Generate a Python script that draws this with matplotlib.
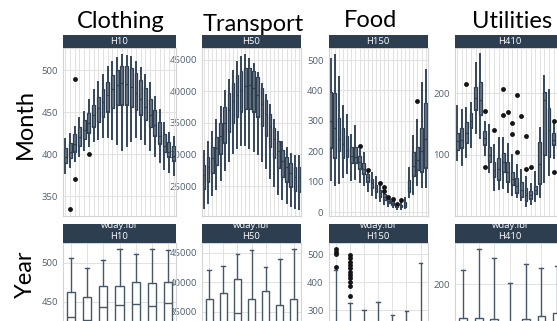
import matplotlib
matplotlib.use("Agg")
import matplotlib.pyplot as plt
from matplotlib.patches import Rectangle

plt.rcParams["font.family"] = ["Open Sans", "DejaVu Sans"]

# =============================================================================
# Data
# =============================================================================

series_ids = ["H10", "H50", "H150", "H410"]
group_titles = ["Clothing", "Transport", "Food", "Utilities"]
row_titles = ["Month", "Year"]

# top row: one box per hour (24)
h10_hour_lo  = [377, 385, 392, 398, 405, 410, 415, 418, 420, 420, 418, 412, 405, 410, 415, 420, 418, 412, 405, 398, 390, 382, 378, 375]
h10_hour_q1  = [389, 395, 402, 410, 418, 425, 432, 438, 444, 450, 455, 458, 458, 458, 456, 452, 446, 440, 432, 422, 412, 402, 396, 392]
h10_hour_med = [396, 402, 412, 420, 428, 437, 446, 455, 462, 470, 477, 482, 484, 483, 480, 473, 465, 456, 446, 434, 422, 410, 402, 398]
h10_hour_q3  = [407, 413, 424, 432, 440, 449, 458, 468, 477, 486, 494, 500, 505, 505, 502, 496, 488, 478, 466, 452, 438, 424, 414, 410]
h10_hour_hi  = [418, 424, 432, 443, 450, 464, 476, 486, 494, 504, 510, 514, 518, 517, 515, 510, 502, 494, 484, 468, 452, 437, 425, 420]
h10_hour_out = {1: [335], 2: [489, 370], 5: [400]}

h50_hour_lo  = [21500, 22300, 23500, 24500, 26000, 27500, 29000, 30200, 31000, 31500, 31500, 31000, 30500, 30000, 29000, 27800, 26300, 25000, 23800, 23000, 22300, 21800, 21500, 21300]
h50_hour_q1  = [24500, 25700, 27000, 28300, 30000, 31800, 33500, 35000, 36000, 36800, 37200, 37200, 36800, 36000, 34600, 33000, 31200, 29400, 27800, 26500, 25600, 24800, 24200, 24000]
h50_hour_med = [26800, 28000, 29500, 31000, 33000, 35000, 37000, 38500, 39500, 40300, 40800, 41000, 40500, 39500, 38000, 36500, 34500, 32500, 30500, 29000, 28000, 27000, 26500, 26500]
h50_hour_q3  = [28300, 29600, 31200, 32800, 35000, 37500, 39800, 41300, 42600, 43300, 43700, 43800, 43300, 42300, 40600, 38700, 36500, 34200, 32200, 30700, 29600, 28700, 28000, 28000]
h50_hour_hi  = [30500, 32000, 33500, 35500, 37500, 40000, 41800, 43300, 44600, 45400, 45800, 45200, 44300, 43000, 41200, 39500, 37800, 35500, 33500, 32000, 31000, 30000, 29700, 29800]
h50_hour_out = {}

h150_hour_lo  = [105, 89, 95, 115, 130, 105, 110, 100, 90, 70, 55, 45, 35, 28, 20, 15, 10, 10, 12, 49, 60, 89, 82, 82]
h150_hour_q1  = [210, 178, 200, 178, 180, 160, 160, 140, 125, 100, 80, 65, 50, 40, 30, 24, 16, 15, 18, 66, 120, 138, 132, 145]
h150_hour_med = [300, 275, 240, 225, 205, 185, 180, 165, 140, 115, 95, 78, 62, 50, 36, 30, 20, 19, 24, 80, 150, 170, 200, 240]
h150_hour_q3  = [396, 391, 309, 276, 250, 215, 215, 185, 160, 125, 110, 90, 73, 58, 42, 35, 24, 24, 32, 105, 197, 215, 276, 358]
h150_hour_hi  = [502, 516, 445, 349, 319, 253, 283, 205, 195, 130, 128, 115, 88, 68, 46, 40, 25, 30, 45, 145, 250, 303, 424, 467]
h150_hour_out = {7: [218], 9: [138], 12: [94], 13: [83, 70], 14: [48], 15: [42], 16: [27], 17: [38], 21: [365]}

h410_hour_lo  = [92, 84, 97, 113, 135, 127, 100, 73, 44, 45, 47, 40, 36, 32, 28, 17, 21, 25, 33, 57, 68, 95, 90, 95]
h410_hour_q1  = [108, 111, 119, 143, 173, 165, 116, 89, 64, 60, 73, 57, 52, 39, 33, 25, 29, 37, 54, 100, 97, 116, 110, 115]
h410_hour_med = [122, 125, 135, 155, 192, 189, 127, 100, 75, 78, 88, 72, 62, 50, 44, 35, 35, 43, 85, 189, 140, 125, 130, 135]
h410_hour_q3  = [135, 143, 154, 168, 209, 218, 138, 113, 89, 95, 103, 89, 73, 63, 57, 47, 42, 50, 121, 202, 176, 135, 150, 160]
h410_hour_hi  = [179, 173, 176, 184, 248, 263, 154, 148, 116, 128, 127, 118, 100, 84, 75, 65, 53, 73, 143, 227, 205, 150, 175, 190]
h410_hour_out = {2: [214], 6: [171, 80], 8: [140], 10: [206, 165], 11: [170], 12: [152, 134],
                 13: [196, 105], 14: [163], 15: [130, 77], 16: [81], 21: [155, 73]}

# bottom row: one box per weekday (7)
h10_wday_lo  = [340, 335, 345, 350, 352, 350, 355]
h10_wday_q1  = [405, 400, 410, 412, 415, 412, 416]
h10_wday_med = [431, 427, 443, 446, 448, 445, 449]
h10_wday_q3  = [463, 456, 470, 471, 475, 474, 475]
h10_wday_hi  = [506, 494, 504, 518, 511, 518, 516]
h10_wday_out = {}

h50_wday_lo  = [20000, 20500, 21000, 20000, 20500, 20000, 20000]
h50_wday_q1  = [27000, 27500, 28500, 27000, 27500, 26500, 27000]
h50_wday_med = [31000, 31500, 34900, 31000, 32000, 30500, 31000]
h50_wday_q3  = [37200, 38300, 40600, 37150, 38550, 36200, 37150]
h50_wday_hi  = [42100, 42800, 44800, 45500, 42700, 43900, 45600]
h50_wday_out = {}

h150_wday_lo  = [10, 10, 10, 10, 10, 10, 10]
h150_wday_q1  = [90, 85, 80, 85, 80, 80, 90]
h150_wday_med = [150, 140, 130, 135, 130, 130, 145]
h150_wday_q3  = [230, 220, 200, 210, 200, 205, 230]
h150_wday_hi  = [443, 324, 300, 327, 282, 298, 467]
h150_wday_out = {0: [517, 508, 500, 455],
                 1: [496, 485, 473, 461, 449, 437, 425, 413, 401, 386, 350]}

h410_wday_lo  = [40, 40, 38, 35, 38, 40, 42]
h410_wday_q1  = [90, 90, 88, 85, 88, 90, 92]
h410_wday_med = [115, 115, 112, 105, 112, 115, 118]
h410_wday_q3  = [141, 141, 140, 128, 139, 144, 149]
h410_wday_hi  = [224, 260, 246, 202, 234, 227, 231]
h410_wday_out = {}

# =============================================================================
# Layout (pixels of the 557x321 canvas)
# =============================================================================

W, H = 557, 321
NAVY = "#2c3e50"
col_x = [(63, 176), (202, 301), (328.5, 427.7), (455, 565)]
top_y, bot_y = (48, 216), (243, 411)

top_ylims = [(326.2, 526.2), (20240, 46900), (-13, 539.5), (1.6, 272.6)]
bot_ylims = [(310.3, 525.6), (18219, 46695), (-60.7, 539.3), (-20.5, 271.2)]
top_ticks = [[350, 400, 450, 500], [25000, 30000, 35000, 40000, 45000],
             [0, 100, 200, 300, 400, 500], [100, 200]]
bot_ticks = [[350, 400, 450, 500], [35000, 40000, 45000],
             [300, 400, 500], [200]]


def make_stats(lo, q1, med, q3, hi, out):
    return [dict(whislo=lo[i], q1=q1[i], med=med[i], q3=q3[i], whishi=hi[i],
                 fliers=out.get(i, [])) for i in range(len(med))]


top_stats = [
    make_stats(h10_hour_lo, h10_hour_q1, h10_hour_med, h10_hour_q3, h10_hour_hi, h10_hour_out),
    make_stats(h50_hour_lo, h50_hour_q1, h50_hour_med, h50_hour_q3, h50_hour_hi, h50_hour_out),
    make_stats(h150_hour_lo, h150_hour_q1, h150_hour_med, h150_hour_q3, h150_hour_hi, h150_hour_out),
    make_stats(h410_hour_lo, h410_hour_q1, h410_hour_med, h410_hour_q3, h410_hour_hi, h410_hour_out),
]
bot_stats = [
    make_stats(h10_wday_lo, h10_wday_q1, h10_wday_med, h10_wday_q3, h10_wday_hi, h10_wday_out),
    make_stats(h50_wday_lo, h50_wday_q1, h50_wday_med, h50_wday_q3, h50_wday_hi, h50_wday_out),
    make_stats(h150_wday_lo, h150_wday_q1, h150_wday_med, h150_wday_q3, h150_wday_hi, h150_wday_out),
    make_stats(h410_wday_lo, h410_wday_q1, h410_wday_med, h410_wday_q3, h410_wday_hi, h410_wday_out),
]

fig = plt.figure(figsize=(W / 100, H / 100), dpi=100)


def px_axes(x0, x1, y0, y1, z):
    ax = fig.add_axes([x0 / W, 1 - y1 / H, (x1 - x0) / W, (y1 - y0) / H], zorder=z)
    ax.set_facecolor("none")
    return ax


def strip(x0, x1, y0, y1, lines):
    fig.add_artist(Rectangle((x0 / W, 1 - y1 / H), (x1 - x0) / W, (y1 - y0) / H,
                             transform=fig.transFigure, color=NAVY, zorder=20, lw=0))
    xc = (x0 + x1) / 2
    for text, yc in lines:
        fig.text(xc / W, 1 - yc / H, text, color="white", fontsize=6.8,
                 ha="center", va="center", zorder=21)


def style_axes(ax, n, ylim, ticks):
    ax.set_xlim(-0.5, n - 0.5)
    ax.set_ylim(*ylim)
    ax.set_xticks(range(n))
    ax.set_yticks(ticks)
    ax.grid(True, color="#e2e2e2", lw=0.7)
    ax.set_axisbelow(True)
    ax.tick_params(length=0, pad=3.6, labelsize=6.8, labelcolor="#4f5f70",
                   labelbottom=False)
    for s in ax.spines.values():
        s.set_color("#d4d4d4")
        s.set_linewidth(0.8)


flier_style = dict(marker="o", markersize=3.5, markerfacecolor="#141414",
                   markeredgecolor="none")

for c in range(4):
    x0, x1 = col_x[c]

    # hour-of-day row
    ax = px_axes(x0, x1, *top_y, z=10 - c)
    ax.bxp(top_stats[c], positions=range(24), widths=0.62, patch_artist=True,
           showcaps=False, manage_ticks=False,
           boxprops=dict(facecolor=(0.17, 0.24, 0.31, 0.7), edgecolor=NAVY, linewidth=0.9),
           whiskerprops=dict(color="#34465a", linewidth=1.4),
           medianprops=dict(color=NAVY, linewidth=0.9),
           flierprops=flier_style)
    style_axes(ax, 24, top_ylims[c], top_ticks[c])
    strip(x0, x1, 35, 48, [(series_ids[c], 41.5)])

    # weekday row
    ax = px_axes(x0, x1, *bot_y, z=10 - c)
    ax.bxp(bot_stats[c], positions=range(7), widths=0.5, capwidths=0.25,
           patch_artist=True, manage_ticks=False,
           boxprops=dict(facecolor="white", edgecolor="#46576a", linewidth=1.0),
           whiskerprops=dict(color="#46576a", linewidth=1.0),
           capprops=dict(color="#46576a", linewidth=1.0),
           medianprops=dict(color="#46576a", linewidth=1.0),
           flierprops=flier_style)
    style_axes(ax, 7, bot_ylims[c], bot_ticks[c])
    strip(x0, x1, 224, 243, [("wday.lbl", 225.8), (series_ids[c], 236.5)])

# group titles and row labels
title_pos = [(120.5, 27.5), (253, 30.8), (371, 26.8), (511.7, 27.5)]
for name, (tx, ty) in zip(group_titles, title_pos):
    fig.text(tx / W, 1 - ty / H, name, family="Lato", fontsize=17,
             ha="center", va="baseline", color="black")

fig.text(25 / W, 1 - 124 / H, row_titles[0], family="Lato", fontsize=17,
         rotation=90, ha="center", va="center")
fig.text(25 / W, 1 - 274 / H, row_titles[1], family="Lato", fontsize=17,
         rotation=90, ha="center", va="center")

fig.savefig("out.png", dpi=100)
